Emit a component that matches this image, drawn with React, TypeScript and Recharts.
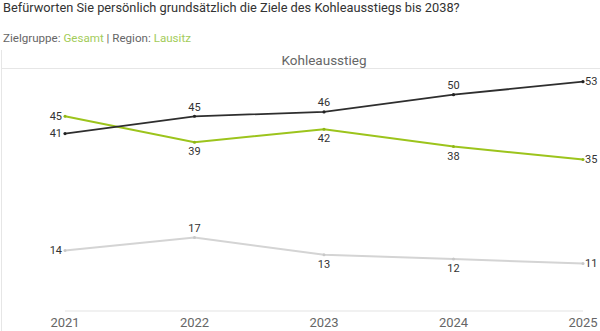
import { LineChart, Line, XAxis, YAxis, LabelList } from "recharts";

const years = ["2021", "2022", "2023", "2024", "2025"];
const seriesDark = [41, 45, 46, 50, 53];
const seriesGreen = [45, 39, 42, 38, 35];
const seriesGrey = [14, 17, 13, 12, 11];

const data = years.map((year, i) => ({
  year,
  dark: seriesDark[i],
  green: seriesGreen[i],
  grey: seriesGrey[i],
}));

const FONT = "Roboto, 'Noto Sans', sans-serif";

type Place = "left" | "above" | "below" | "right";

const makeLabel = (places: Place[]) => (props: any) => {
  const { x, y, value, index } = props;
  const place = places[index];
  let tx = x;
  let ty = y;
  let anchor: "start" | "middle" | "end" = "middle";
  if (place === "left") {
    tx = x - 3;
    anchor = "end";
  } else if (place === "right") {
    tx = x + 2;
    anchor = "start";
  } else if (place === "above") {
    ty = y - 9;
  } else {
    ty = y + 9.5;
  }
  return (
    <text
      x={tx}
      y={ty}
      textAnchor={anchor}
      dominantBaseline="central"
      fontSize={11}
      fontFamily={FONT}
      fill="#333"
    >
      {value}
    </text>
  );
};

const darkPlaces: Place[] = ["left", "above", "above", "above", "right"];
const greenPlaces: Place[] = ["left", "below", "below", "below", "right"];
const greyPlaces: Place[] = ["left", "above", "below", "below", "right"];

export default function App() {
  return (
    <div
      style={{
        position: "absolute",
        left: 0,
        top: 0,
        width: 600,
        height: 331,
        background: "#fff",
        fontFamily: FONT,
        overflow: "hidden",
      }}
    >
      <div
        style={{
          position: "absolute",
          left: 3,
          top: 0,
          fontSize: 12.8,
          color: "#333",
          whiteSpace: "nowrap",
          lineHeight: "16px",
        }}
      >
        Befürworten Sie persönlich grundsätzlich die Ziele des Kohleausstiegs bis 2038?
      </div>
      <div
        style={{
          position: "absolute",
          left: 3,
          top: 30,
          fontSize: 11.6,
          color: "#666",
          whiteSpace: "nowrap",
          lineHeight: "16px",
        }}
      >
        Zielgruppe: <span style={{ color: "#a3cc5a" }}>Gesamt</span> | Region:{" "}
        <span style={{ color: "#a3cc5a" }}>Lausitz</span>
      </div>
      <div
        style={{
          position: "absolute",
          left: 1,
          top: 50,
          width: 1,
          height: 281,
          background: "#e6e6e6",
        }}
      />
      <div
        style={{
          position: "absolute",
          left: 1,
          top: 68,
          width: 599,
          height: 1,
          background: "#e6e6e6",
        }}
      />
      <div
        style={{
          position: "absolute",
          left: 224,
          width: 200,
          top: 51,
          textAlign: "center",
          fontSize: 13.5,
          color: "#666",
          lineHeight: "18px",
        }}
      >
        Kohleausstieg
      </div>
      <div style={{ position: "absolute", left: 0, top: 0 }}>
        <LineChart
          width={600}
          height={331}
          data={data}
          margin={{ top: 73, right: 17, bottom: 0, left: 65 }}
        >
          <XAxis
            dataKey="year"
            height={20}
            tickLine={false}
            tickSize={0}
            tickMargin={7}
            axisLine={{ stroke: "#e3e3e3" }}
            tick={{ fontSize: 13, fill: "#666", fontFamily: FONT }}
            interval={0}
          />
          <YAxis hide domain={[0, 55]} width={0} />
          <Line
            dataKey="grey"
            stroke="#d4d4d4"
            strokeWidth={2}
            dot={{ r: 1.5, fill: "#c8c8c8", stroke: "none" }}
            activeDot={false}
            isAnimationActive={false}
          >
            <LabelList dataKey="grey" content={makeLabel(greyPlaces)} />
          </Line>
          <Line
            dataKey="green"
            stroke="#9cc41c"
            strokeWidth={2}
            dot={{ r: 1.5, fill: "#8fb516", stroke: "none" }}
            activeDot={false}
            isAnimationActive={false}
          >
            <LabelList dataKey="green" content={makeLabel(greenPlaces)} />
          </Line>
          <Line
            dataKey="dark"
            stroke="#2e2e2e"
            strokeWidth={1.8}
            dot={{ r: 1.6, fill: "#222", stroke: "none" }}
            activeDot={false}
            isAnimationActive={false}
          >
            <LabelList dataKey="dark" content={makeLabel(darkPlaces)} />
          </Line>
        </LineChart>
      </div>
    </div>
  );
}
